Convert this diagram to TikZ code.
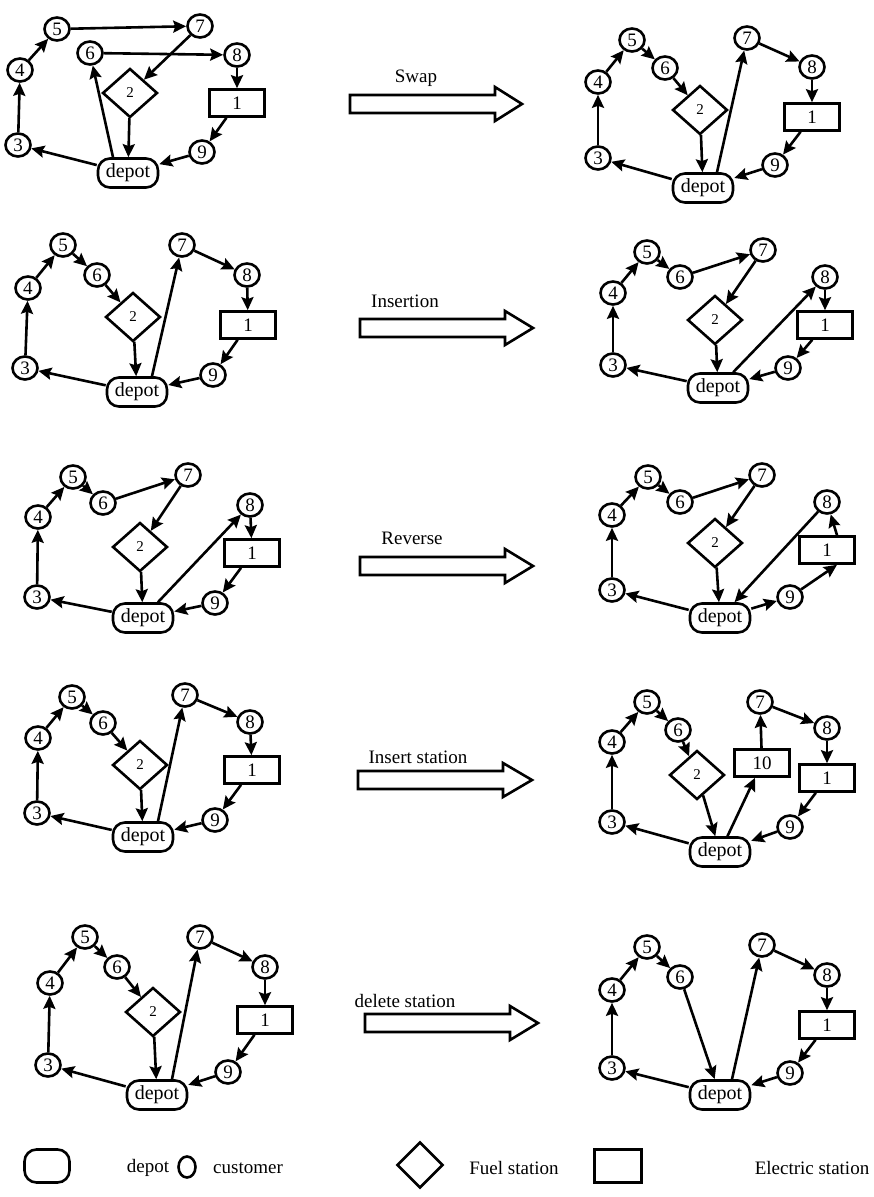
\documentclass[tikz,border=0pt]{standalone}
\usepackage{fontspec}
\setmainfont{Liberation Serif}
\usetikzlibrary{shapes.geometric,arrows.meta}
\newcommand\blockarr[4]{%
  \draw[blk] (#1,#2-9) -- (#3,#2-9) -- (#3,#2-17) -- (#4,#2) -- (#3,#2+17) -- (#3,#2+9) -- (#1,#2+9) -- cycle;}
\begin{document}
\begin{tikzpicture}[x=1pt,y=-1pt,
 cust/.style={ellipse,draw,line width=2.6pt,minimum width=25pt,minimum height=23pt,inner sep=0pt,font=\fontsize{19}{19}\selectfont},
 dep/.style={rectangle,rounded corners=12pt,draw,line width=2.6pt,minimum width=60pt,minimum height=29pt,inner sep=0pt,font=\fontsize{20}{20}\selectfont},
 fuel/.style={diamond,draw,line width=2.6pt,minimum width=55pt,minimum height=49pt,inner sep=0pt,font=\fontsize{15}{15}\selectfont},
 elec/.style={rectangle,draw,line width=2.6pt,minimum width=55pt,minimum height=27pt,inner sep=0pt,font=\fontsize{19}{19}\selectfont},
 arr/.style={-{Stealth[length=13pt,width=12pt,inset=2pt]},line width=2.6pt},
 blk/.style={draw,line width=2.6pt,fill=white,line join=miter},
 lbl/.style={font=\fontsize{19}{19}\selectfont,anchor=base},
 lg/.style={font=\fontsize{19}{19}\selectfont}]
\useasboundingbox (0,0) rectangle (874,1197);

% ---------- Panel 1 left ----------
\node[cust] (a5) at (57,29) {5};
\node[cust] (a7) at (200,26) {7};
\node[cust] (a6) at (90,53) {6};
\node[cust] (a8) at (237,55) {8};
\node[cust] (a4) at (20,70) {4};
\node[cust] (a3) at (18,145) {3};
\node[fuel] (a2) at (130,93) {2};
\node[elec] (a1) at (237,103) {1};
\node[cust] (a9) at (202,152) {9};
\node[dep]  (ad) at (128,173) {depot};
\foreach \p/\q in {ad/a3,a3/a4,a4/a5,a5/a7,a7/a2,a2/ad,a6/a8,a8/a1,a1/a9,a9/ad}
  \draw[arr] (\p) -- (\q);
\draw[arr] ([xshift=-15pt]ad.north) -- (a6);

% ---------- Panel 1 right ----------
\node[cust] (b5) at (632,40) {5};
\node[cust] (b6) at (665,68) {6};
\node[cust] (b4) at (598,82) {4};
\node[cust] (b3) at (598,158) {3};
\node[fuel] (b2) at (700,110) {2};
\node[dep]  (bd) at (703,188) {depot};
\node[cust] (b7) at (747,38) {7};
\node[cust] (b8) at (812,67) {8};
\node[elec] (b1) at (812,117) {1};
\node[cust] (b9) at (775,165) {9};
\foreach \p/\q in {bd/b3,b3/b4,b4/b5,b5/b6,b6/b2,b2/bd,b7/b8,b8/b1,b1/b9,b9/bd}
  \draw[arr] (\p) -- (\q);
\draw[arr] ([xshift=14pt]bd.north) -- (b7);

% ---------- Panel 2 left ----------
\node[cust] (c5) at (63,245) {5};
\node[cust] (c6) at (97,275) {6};
\node[cust] (c4) at (28,288) {4};
\node[cust] (c3) at (25,368) {3};
\node[fuel] (c2) at (133,317) {2};
\node[dep]  (cd) at (137,392) {depot};
\node[cust] (c7) at (182,245) {7};
\node[cust] (c8) at (247,275) {8};
\node[elec] (c1) at (248,325) {1};
\node[cust] (c9) at (213,375) {9};
\foreach \p/\q in {cd/c3,c3/c4,c4/c5,c5/c6,c6/c2,c2/cd,c7/c8,c8/c1,c1/c9,c9/cd}
  \draw[arr] (\p) -- (\q);
\draw[arr] ([xshift=15pt]cd.north) -- (c7);

% ---------- Panel 2 right ----------
\node[cust] (d5) at (647,252) {5};
\node[cust] (d6) at (680,277) {6};
\node[cust] (d4) at (613,293) {4};
\node[cust] (d3) at (613,365) {3};
\node[cust] (d7) at (763,250) {7};
\node[fuel] (d2) at (715,320) {2};
\node[cust] (d8) at (825,277) {8};
\node[elec] (d1) at (825,325) {1};
\node[cust] (d9) at (788,368) {9};
\node[dep]  (dd) at (718,388) {depot};
\foreach \p/\q in {dd/d3,d3/d4,d4/d5,d5/d6,d6/d7,d7/d2,d2/dd,dd/d8,d8/d1,d1/d9,d9/dd}
  \draw[arr] (\p) -- (\q);

% ---------- Panel 3 left ----------
\node[cust] (e5) at (73,477) {5};
\node[cust] (e6) at (103,503) {6};
\node[cust] (e4) at (38,517) {4};
\node[cust] (e3) at (37,597) {3};
\node[cust] (e7) at (188,475) {7};
\node[fuel] (e2) at (140,547) {2};
\node[cust] (e8) at (250,505) {8};
\node[elec] (e1) at (252,553) {1};
\node[cust] (e9) at (215,603) {9};
\node[dep]  (ed) at (143,618) {depot};
\foreach \p/\q in {ed/e3,e3/e4,e4/e5,e5/e6,e6/e7,e7/e2,e2/ed,ed/e8,e8/e1,e1/e9,e9/ed}
  \draw[arr] (\p) -- (\q);

% ---------- Panel 3 right ----------
\node[cust] (f5) at (648,477) {5};
\node[cust] (f6) at (680,502) {6};
\node[cust] (f4) at (612,515) {4};
\node[cust] (f3) at (612,590) {3};
\node[cust] (f7) at (762,475) {7};
\node[fuel] (f2) at (715,543) {2};
\node[cust] (f8) at (827,502) {8};
\node[elec] (f1) at (827,550) {1};
\node[cust] (f9) at (790,597) {9};
\node[dep]  (fd) at (720,618) {depot};
\foreach \p/\q in {fd/f3,f3/f4,f4/f5,f5/f6,f6/f7,f7/f2,f2/fd,f8/fd,fd/f9}
  \draw[arr] (\p) -- (\q);
\draw[arr] ([xshift=10pt]f1.north) -- (f8);
\draw[arr] (f9) -- ([xshift=10pt]f1.south);

% ---------- Panel 4 left ----------
\node[cust] (g5) at (72,697) {5};
\node[cust] (g6) at (103,723) {6};
\node[cust] (g4) at (38,738) {4};
\node[cust] (g3) at (37,813) {3};
\node[cust] (g7) at (185,695) {7};
\node[fuel] (g2) at (140,765) {2};
\node[cust] (g8) at (250,722) {8};
\node[elec] (g1) at (252,770) {1};
\node[cust] (g9) at (215,820) {9};
\node[dep]  (gd) at (143,837) {depot};
\foreach \p/\q in {gd/g3,g3/g4,g4/g5,g5/g6,g6/g2,g2/gd,g7/g8,g8/g1,g1/g9,g9/gd}
  \draw[arr] (\p) -- (\q);
\draw[arr] ([xshift=15pt]gd.north) -- (g7);

% ---------- Panel 4 right ----------
\node[cust] (h5) at (647,702) {5};
\node[cust] (h6) at (678,730) {6};
\node[cust] (h4) at (612,742) {4};
\node[cust] (h3) at (612,822) {3};
\node[fuel] (h2) at (697,775) {2};
\node[cust] (h7) at (760,702) {7};
\node[elec] (h10) at (762,763) {10};
\node[cust] (h8) at (827,728) {8};
\node[elec] (h1) at (827,778) {1};
\node[cust] (h9) at (790,827) {9};
\node[dep]  (hd) at (720,852) {depot};
\foreach \p/\q in {hd/h3,h3/h4,h4/h5,h5/h6,h6/h2,h2/hd,hd/h10,h10/h7,h7/h8,h8/h1,h1/h9,h9/hd}
  \draw[arr] (\p) -- (\q);

% ---------- Panel 5 left ----------
\node[cust] (i5) at (85,937) {5};
\node[cust] (i6) at (117,967) {6};
\node[cust] (i4) at (50,983) {4};
\node[cust] (i3) at (48,1065) {3};
\node[cust] (i7) at (200,937) {7};
\node[fuel] (i2) at (153,1012) {2};
\node[cust] (i8) at (265,967) {8};
\node[elec] (i1) at (265,1020) {1};
\node[cust] (i9) at (228,1072) {9};
\node[dep]  (id) at (157,1095) {depot};
\foreach \p/\q in {id/i3,i3/i4,i4/i5,i5/i6,i6/i2,i2/id,i7/i8,i8/i1,i1/i9,i9/id}
  \draw[arr] (\p) -- (\q);
\draw[arr] ([xshift=15pt]id.north) -- (i7);

% ---------- Panel 5 right ----------
\node[cust] (j5) at (647,947) {5};
\node[cust] (j6) at (680,977) {6};
\node[cust] (j4) at (612,990) {4};
\node[cust] (j3) at (612,1068) {3};
\node[cust] (j7) at (762,945) {7};
\node[cust] (j8) at (827,975) {8};
\node[elec] (j1) at (827,1025) {1};
\node[cust] (j9) at (790,1073) {9};
\node[dep]  (jd) at (720,1095) {depot};
\foreach \p/\q in {jd/j3,j3/j4,j4/j5,j5/j6,j6/jd,j7/j8,j8/j1,j1/j9,j9/jd}
  \draw[arr] (\p) -- (\q);
\draw[arr] ([xshift=12pt]jd.north) -- (j7);

% ---------- Block arrows ----------
\blockarr{350}{104}{495}{522}
\node[lbl] (t1) at (416,82) {Swap};
\blockarr{360}{328}{505}{533}
\node[lbl] (t2) at (405,307) {Insertion};
\blockarr{360}{566}{505}{533}
\node[lbl] (t3) at (412,544) {Reverse};
\blockarr{358}{780}{503}{532}
\node[lbl] (t4) at (418,763) {Insert station};
\blockarr{365}{1023}{510}{538}
\node[lbl] (t5) at (405,1007) {delete station};

% ---------- Legend ----------
\node[draw,line width=2.6pt,rounded corners=12pt,minimum width=45pt,minimum height=33pt] (lgd) at (47,1166) {};
\node[lg] (lgdt) at (148,1168) {depot};
\node[draw,ellipse,line width=2.6pt,minimum width=17pt,minimum height=21pt,inner sep=0pt] (lgc) at (187,1167) {};
\node[lg] (lgct) at (248,1168) {customer};
\node[draw,diamond,line width=2.6pt,minimum width=46pt,minimum height=46pt,inner sep=0pt] (lgf) at (420,1165) {};
\node[lg] (lgft) at (514,1168) {Fuel station};
\node[draw,line width=2.6pt,minimum width=47pt,minimum height=33pt,inner sep=0pt] (lge) at (618,1166) {};
\node[lg] (lget) at (812,1168) {Electric station};
\end{tikzpicture}
\end{document}
